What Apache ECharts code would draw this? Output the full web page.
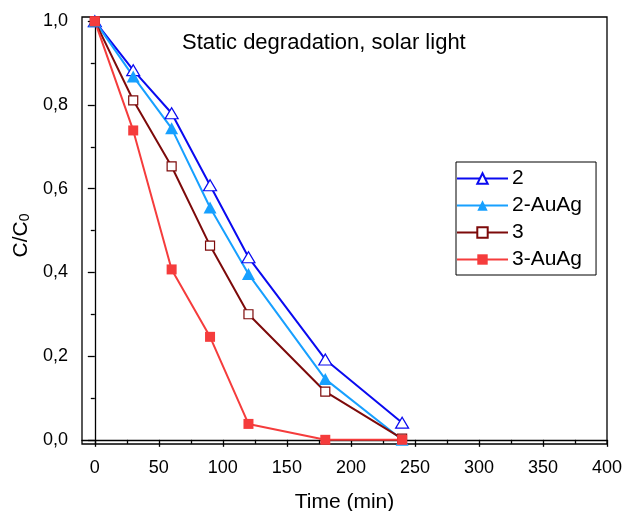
<!DOCTYPE html>
<html>
<head>
<meta charset="utf-8">
<script src="https://cdn.jsdelivr.net/npm/echarts@6/dist/echarts.min.js"></script>
<style>
html,body{margin:0;padding:0;background:#fff;}
#c{width:624px;height:511px;}
</style>
</head>
<body>
<div id="c"></div>
<script>
// ---- data ----
var times = [0, 30, 60, 90, 120, 180, 240];
var s2 = [1.0, 0.883, 0.78, 0.608, 0.436, 0.192, 0.041];
var s2AuAg = [1.0, 0.868, 0.744, 0.555, 0.396, 0.145, 0.0];
var s3 = [1.0, 0.811, 0.653, 0.464, 0.300, 0.115, 0.003];
var s3AuAg = [1.0, 0.739, 0.407, 0.246, 0.038, 0.0, 0.0];
var seriesNames = ['2', '2-AuAg', '3', '3-AuAg'];
var xMajorTicks = [0, 50, 100, 150, 200, 250, 300, 350, 400];
var xMinorTicks = [25, 75, 125, 175, 225, 275, 325, 375];
var yMajorTicks = [0, 0.2, 0.4, 0.6, 0.8, 1.0];
var yMinorTicks = [0.1, 0.3, 0.5, 0.7, 0.9];
var titleText = 'Static degradation, solar light';

function pairs(ys) { return times.map(function (t, i) { return [t, ys[i]]; }); }

var FONT = 'Liberation Sans, Arial, sans-serif';
var chart = echarts.init(document.getElementById('c'));

function mkSeries(name, ys, color, symbol, size, hollow) {
  return {
    name: name,
    type: 'line',
    data: pairs(ys),
    xAxisIndex: 0, yAxisIndex: 0,
    symbol: symbol,
    symbolSize: size,
    showAllSymbol: true,
    color: color,
    lineStyle: { color: color, width: 2 },
    itemStyle: hollow ? { color: '#fff', borderColor: color, borderWidth: 1.2 } : { color: color, borderWidth: 0 },
    emphasis: { disabled: true },
    animation: false,
    z: 3
  };
}

var axisLineStyle = { color: '#000', width: 1.3 };

var option = {
  animation: false,
  backgroundColor: '#fff',
  title: {
    text: titleText, left: 182, top: 32, padding: 0,
    textStyle: { fontFamily: FONT, fontSize: 22, fontWeight: 'normal', color: '#000', lineHeight: 22 }
  },
  legend: {
    orient: 'vertical', left: 456, top: 162,
    padding: [6, 14, 5, 0],
    itemWidth: 51, itemHeight: 13, itemGap: 6,
    borderColor: '#000', borderWidth: 1,
    selectedMode: false,
    data: seriesNames,
    textStyle: { fontFamily: FONT, fontSize: 21, color: '#000', lineHeight: 21, padding: [0, 0, 0, -1] }
  },
  grid: {
    left: 82, top: 17, right: 17, bottom: 67,
    outerBoundsMode: 'none', containLabel: false,
    show: true, borderColor: '#000', borderWidth: 1.3, backgroundColor: 'transparent'
  },
  xAxis: [{
    type: 'value', min: -10, max: 400,
    name: 'Time (min)', nameLocation: 'middle', nameGap: 48,
    nameTextStyle: { fontFamily: FONT, fontSize: 21, color: '#000' },
    axisLine: { lineStyle: axisLineStyle },
    axisTick: { show: true, inside: false, length: 7, lineStyle: { color: '#000', width: 1.3 }, customValues: xMajorTicks },
    axisLabel: { customValues: xMajorTicks, margin: 15, fontFamily: FONT, fontSize: 18, color: '#000', showMinLabel: true, showMaxLabel: true },
    splitLine: { show: false }
  }, {
    type: 'value', min: -10, max: 400, position: 'bottom',
    axisLine: { show: false },
    axisTick: { show: true, inside: false, length: 4, lineStyle: { color: '#000', width: 1.3 }, customValues: xMinorTicks },
    axisLabel: { show: false },
    splitLine: { show: false }
  }],
  yAxis: [{
    type: 'value', min: -0.01, max: 1.01,
    name: '{n|C/C}{s|0}', nameLocation: 'middle', nameGap: 48, nameRotate: 90,
    nameTextStyle: {
      padding: [0, 10, 0, 0],
      rich: {
        n: { fontFamily: FONT, fontSize: 21, color: '#000', lineHeight: 26, verticalAlign: 'bottom' },
        s: { fontFamily: FONT, fontSize: 14, color: '#000', lineHeight: 14, verticalAlign: 'bottom' }
      }
    },
    axisLine: { lineStyle: axisLineStyle },
    axisTick: { show: true, inside: false, length: 7, lineStyle: { color: '#000', width: 1.3 }, customValues: yMajorTicks },
    axisLabel: {
      customValues: yMajorTicks, margin: 14, fontFamily: FONT, fontSize: 18, color: '#000',
      formatter: function (v) { return v.toFixed(1).replace('.', ','); }
    },
    splitLine: { show: false }
  }, {
    type: 'value', min: -0.01, max: 1.01, position: 'left',
    axisLine: { show: false },
    axisTick: { show: true, inside: false, length: 4, lineStyle: { color: '#000', width: 1.3 }, customValues: yMinorTicks },
    axisLabel: { show: false },
    splitLine: { show: false }
  }],
  series: [
    mkSeries(seriesNames[0], s2, '#0a0af0', 'triangle', [13, 11], true),
    mkSeries(seriesNames[1], s2AuAg, '#17a0ff', 'triangle', [13, 12], false),
    mkSeries(seriesNames[2], s3, '#7d0a0a', 'rect', [9, 9], true),
    mkSeries(seriesNames[3], s3AuAg, '#f53c3c', 'rect', [10, 10], false)
  ]
};
chart.setOption(option);
</script>
</body>
</html>
